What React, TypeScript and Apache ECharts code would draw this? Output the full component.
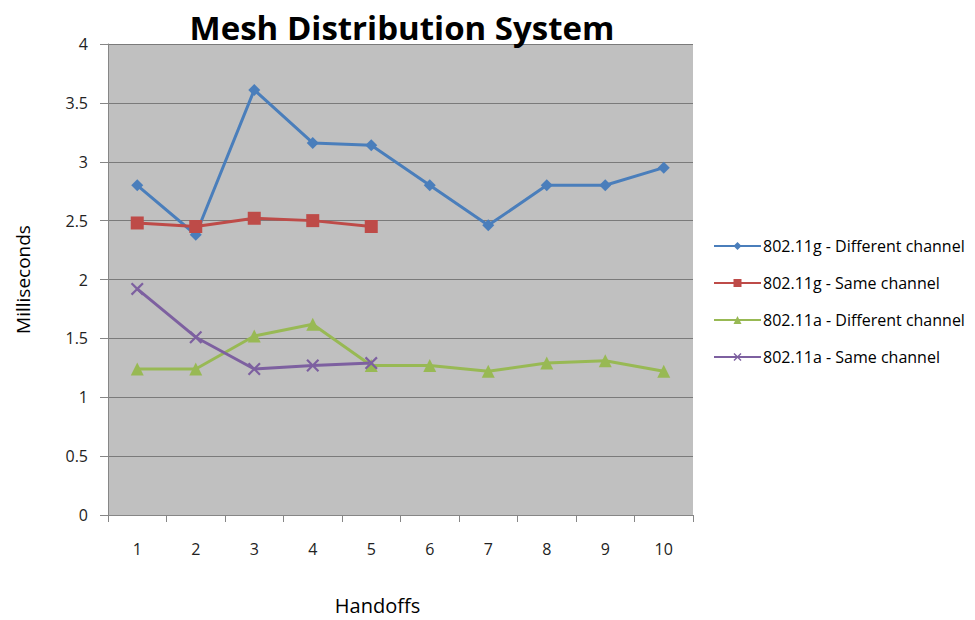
import React, { useEffect, useRef } from "react";
import * as echarts from "echarts";

const handoffs = ["1", "2", "3", "4", "5", "6", "7", "8", "9", "10"];
const g80211Different = [2.8, 2.38, 3.61, 3.16, 3.14, 2.8, 2.46, 2.8, 2.8, 2.95];
const g80211Same = [2.48, 2.45, 2.52, 2.5, 2.45];
const a80211Different = [1.24, 1.24, 1.52, 1.62, 1.27, 1.27, 1.22, 1.29, 1.31, 1.22];
const a80211Same = [1.92, 1.51, 1.24, 1.27, 1.29];
const seriesNames = [
  "802.11g - Different channel",
  "802.11g - Same channel",
  "802.11a - Different channel",
  "802.11a - Same channel",
];

const FONT = "'Open Sans', 'Noto Sans', sans-serif";
const X_SYMBOL =
  "path://M0,1.2 L1.2,0 L5,3.8 L8.8,0 L10,1.2 L6.2,5 L10,8.8 L8.8,10 L5,6.2 L1.2,10 L0,8.8 L3.8,5 Z";

export default function App() {
  const ref = useRef<HTMLDivElement>(null);

  useEffect(() => {
    if (!ref.current) return;
    const chart = echarts.init(ref.current, null, { renderer: "svg" });
    const mk = (name: string, data: number[], color: string, symbol: string, size: number) => ({
      name,
      type: "line",
      data,
      symbol,
      symbolSize: size,
      lineStyle: { color, width: 3 },
      itemStyle: { color },
    });
    chart.setOption({
      animation: false,
      backgroundColor: "#ffffff",
      title: {
        text: "Mesh Distribution System",
        left: 397,
        top: 6,
        textAlign: "center",
        textStyle: { fontFamily: FONT, fontSize: 33, fontWeight: "bold", color: "#000" },
      },
      legend: {
        orient: "vertical",
        left: 708,
        top: 233,
        itemGap: 21,
        itemWidth: 47,
        itemHeight: 10,
        textStyle: { fontFamily: FONT, fontSize: 16, color: "#000", padding: [0, 0, 0, -3] },
        data: seriesNames,
      },
      grid: { left: 108, right: 282, top: 44, bottom: 102, show: true, backgroundColor: "#c0c0c0", borderWidth: 0 },
      xAxis: {
        type: "category",
        data: handoffs,
        boundaryGap: true,
        name: "Handoffs",
        nameLocation: "middle",
        nameGap: 80,
        nameTextStyle: { fontFamily: FONT, fontSize: 20, color: "#000", padding: [0, 46, 0, 0] },
        axisLine: { lineStyle: { color: "#868686", width: 1 } },
        axisTick: { show: true, length: 7, lineStyle: { color: "#868686" } },
        axisLabel: { fontFamily: FONT, fontSize: 16, color: "#222", margin: 26 },
        splitLine: { show: false },
      },
      yAxis: {
        type: "value",
        min: 0,
        max: 4,
        interval: 0.5,
        name: "Milliseconds",
        nameLocation: "middle",
        nameGap: 76,
        nameTextStyle: { fontFamily: FONT, fontSize: 19, color: "#000" },
        axisLine: { show: true, lineStyle: { color: "#868686", width: 1 } },
        axisTick: { show: true, length: 8, lineStyle: { color: "#868686" } },
        axisLabel: { fontFamily: FONT, fontSize: 16, color: "#222", margin: 20 },
        splitLine: { show: true, lineStyle: { color: "#7a7a7a", width: 1 } },
      },
      series: [
        mk(seriesNames[0], g80211Different, "#4a7ebb", "diamond", 12),
        mk(seriesNames[1], g80211Same, "#be4b48", "rect", 13),
        mk(seriesNames[2], a80211Different, "#98b954", "triangle", 13),
        mk(seriesNames[3], a80211Same, "#7d60a0", X_SYMBOL, 13),
      ],
    });
    return () => chart.dispose();
  }, []);

  return (
    <div
      ref={ref}
      style={{ position: "fixed", left: 0, top: 0, width: 975, height: 620, background: "#fff" }}
    />
  );
}
